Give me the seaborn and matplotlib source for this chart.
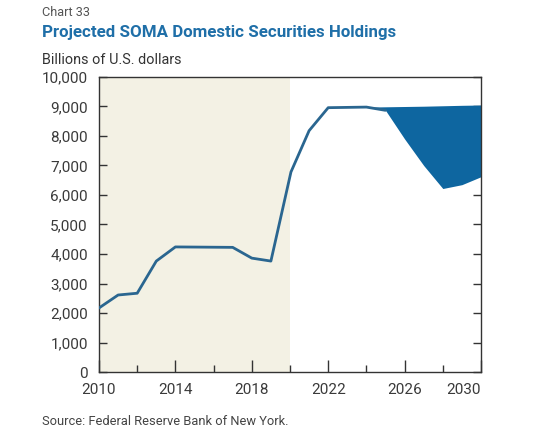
import matplotlib
matplotlib.use("Agg")
import matplotlib.pyplot as plt
import seaborn as sns
import numpy as np
import pandas as pd

# Historical / baseline path (billions of U.S. dollars)
years = [2010.0, 2011.0, 2012.0, 2013.0, 2014.0, 2017.0, 2018.0, 2019.0,
         2020.05, 2021.0, 2022.0, 2024.0, 2025.0]
holdings = [2170, 2610, 2670, 3760, 4240, 4225, 3860, 3760,
            6780, 8180, 8960, 8980, 8870]

# Projection range
proj_years = [2024.0, 2025.0, 2026.0, 2027.0, 2028.0, 2029.0, 2030.0]
proj_upper = [8980, 8990, 9000, 9010, 9025, 9040, 9050]
proj_lower = [8980, 8870, 7900, 7000, 6220, 6350, 6620]

shade_span = [2010, 2020]
xtick_major = [2010, 2014, 2018, 2022, 2026, 2030]
xtick_minor = [2012, 2016, 2020, 2024, 2028]
yticks = list(range(0, 10001, 1000))

title = "Projected SOMA Domestic Securities Holdings"
chart_no = "Chart 33"
unit = "Billions of U.S. dollars"
source = "Source: Federal Reserve Bank of New York."

sns.set_theme(style="white")
plt.rcParams["font.family"] = ["Roboto", "DejaVu Sans"]

fig = plt.figure(figsize=(5.34, 4.36), dpi=100)
ax = fig.add_axes([99/534, 1-372/436, (481-99)/534, (372-77)/436])

line_col = "#2a6690"
fill_col = "#0e66a0"
ax.axvspan(shade_span[0], shade_span[1], color="#f3f1e4", lw=0, zorder=0)

ax.fill_between(proj_years, proj_lower, proj_upper, color=fill_col, lw=0, zorder=2)
df = pd.DataFrame({"year": years, "value": holdings})
sns.lineplot(data=df, x="year", y="value", ax=ax, color=line_col, lw=2.0, zorder=3)

ax.set_xlim(2010, 2030)
ax.set_ylim(0, 10000)
ax.set_xlabel("")
ax.set_ylabel("")
ax.set_yticks(yticks)
ax.set_yticklabels([f"{v:,}" for v in yticks])
ax.set_xticks(xtick_major)
ax.set_xticklabels([str(v) for v in xtick_major])
ax.set_xticks(xtick_minor, minor=True)

for s in ax.spines.values():
    s.set_color("#333333")
    s.set_linewidth(1.0)

ax.tick_params(axis="y", which="major", direction="in", length=6, width=1,
               color="#333333", labelsize=11, labelcolor="#3a3a3a",
               left=True, right=True, pad=8)
ax.tick_params(axis="x", which="major", direction="in", length=9, width=1,
               color="#333333", labelsize=11, labelcolor="#3a3a3a",
               bottom=True, pad=8)
ax.tick_params(axis="x", which="minor", direction="in", length=5, width=1,
               color="#333333", bottom=True)
lbls = ax.get_xticklabels()
lbls[-1].set_horizontalalignment("right")
lbls[-1].set_x(2030)

fig.text(42/534, 1-13/436, chart_no, fontsize=9.2, color="#555555", va="center")
fig.text(42/534, 1-32/436, title, fontsize=12.2, fontweight="bold",
         color="#1f6fa8", va="center")
fig.text(42/534, 1-60/436, unit, fontsize=10.4, color="#333333", va="center")
fig.text(42/534, 1-421/436, source, fontsize=9.3, color="#444444", va="center")

fig.savefig("out.png", dpi=100)
